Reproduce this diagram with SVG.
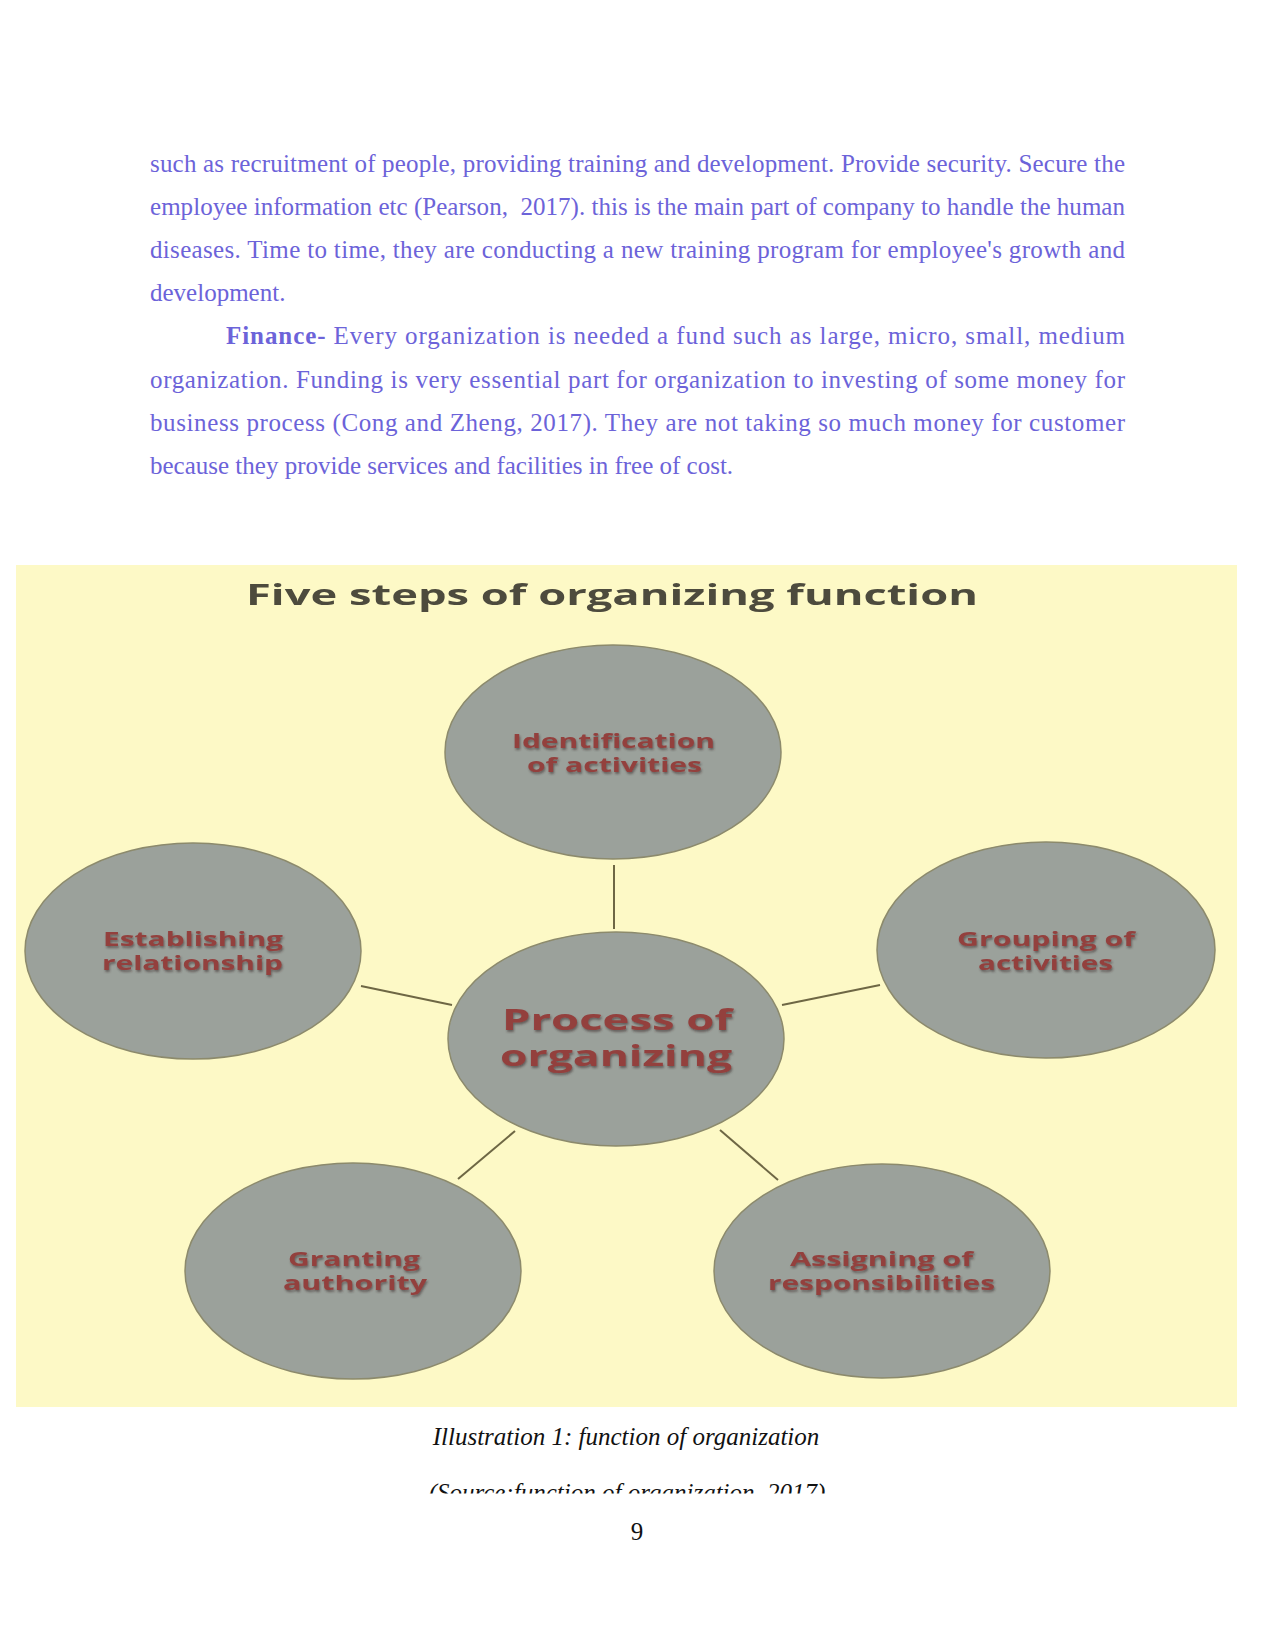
<svg xmlns="http://www.w3.org/2000/svg" width="1275" height="1650" viewBox="0 0 1275 1650">
<defs>
<style>
.body{font-family:"Liberation Serif","Times New Roman",serif;font-size:25px;fill:#6c63d9;white-space:pre}
.cap{font-family:"Liberation Serif","Times New Roman",serif;font-size:25px;font-style:italic;fill:#111}
.pg{font-family:"Liberation Serif","Times New Roman",serif;font-size:25px;fill:#111}
.node ellipse{fill:#9ba19b;stroke:#8c8a6c;stroke-width:1.5}
.lbl{font-family:"Open Sans","Noto Sans","DejaVu Sans",sans-serif;font-weight:bold;font-size:19px;fill:#93403e}
.big{font-size:29px}
.title{font-family:"Open Sans","Noto Sans","DejaVu Sans",sans-serif;font-weight:bold;font-size:28px;fill:#4e4c3e}
.conn line{stroke:#6e6744;stroke-width:2}
</style>
<filter id="soft" x="-5%" y="-20%" width="110%" height="140%">
<feGaussianBlur stdDeviation="0.7"/>
</filter>
<filter id="shadow" x="-5%" y="-20%" width="115%" height="150%">
<feGaussianBlur in="SourceAlpha" stdDeviation="1.2" result="b"/>
<feOffset in="b" dx="1" dy="1.5" result="o"/>
<feFlood flood-color="#3a2a2a" flood-opacity="0.55"/>
<feComposite in2="o" operator="in" result="s"/>
<feGaussianBlur in="SourceGraphic" stdDeviation="0.6" result="t"/>
<feMerge><feMergeNode in="s"/><feMergeNode in="t"/></feMerge>
</filter>
<clipPath id="srcclip"><rect x="0" y="1470" width="1275" height="23.5"/></clipPath>
</defs>
<rect width="1275" height="1650" fill="#ffffff"/>

<g id="body-text">
<text class="body" x="150" y="172" textLength="975" lengthAdjust="spacing">such as recruitment of people, providing training and development. Provide security. Secure the</text>
<text class="body" x="150" y="215" textLength="975" lengthAdjust="spacing">employee information etc (Pearson,  2017). this is the main part of company to handle the human</text>
<text class="body" x="150" y="258" textLength="975" lengthAdjust="spacing">diseases. Time to time, they are conducting a new training program for employee's growth and</text>
<text class="body" x="150" y="301">development.</text>
<text class="body" x="226" y="344" textLength="899" lengthAdjust="spacing"><tspan font-weight="bold">Finance-</tspan> Every organization is needed a fund such as large, micro, small, medium</text>
<text class="body" x="150" y="388" textLength="975" lengthAdjust="spacing">organization. Funding is very essential part for organization to investing of some money for</text>
<text class="body" x="150" y="431" textLength="975" lengthAdjust="spacing">business process (Cong and Zheng, 2017). They are not taking so much money for customer</text>
<text class="body" x="150" y="474">because they provide services and facilities in free of cost.</text>
</g>

<rect id="panel" x="16" y="565" width="1221" height="842" fill="#fdf9c6"/>
<text class="title" x="246" y="605" textLength="732" lengthAdjust="spacingAndGlyphs" filter="url(#soft)">Five steps of organizing function</text>

<g id="connectors" class="conn">
<line x1="614" y1="865" x2="614" y2="929"/>
<line x1="361" y1="986" x2="452" y2="1005"/>
<line x1="782" y1="1005" x2="880" y2="985"/>
<line x1="515" y1="1131" x2="458" y2="1179"/>
<line x1="720" y1="1130" x2="778" y2="1180"/>
</g>

<g id="node-identification" class="node">
<ellipse cx="613" cy="752" rx="168" ry="107"/>
<g filter="url(#shadow)">
<text class="lbl" x="512" y="748" textLength="203" lengthAdjust="spacingAndGlyphs">Identification</text>
<text class="lbl" x="527" y="772" textLength="175" lengthAdjust="spacingAndGlyphs">of activities</text>
</g>
</g>

<g id="node-establishing" class="node">
<ellipse cx="193" cy="951" rx="168" ry="108"/>
<g filter="url(#shadow)">
<text class="lbl" x="103" y="946" textLength="180" lengthAdjust="spacingAndGlyphs">Establishing</text>
<text class="lbl" x="102" y="970" textLength="181" lengthAdjust="spacingAndGlyphs">relationship</text>
</g>
</g>

<g id="node-grouping" class="node">
<ellipse cx="1046" cy="950" rx="169" ry="108"/>
<g filter="url(#shadow)">
<text class="lbl" x="957" y="946" textLength="178" lengthAdjust="spacingAndGlyphs">Grouping of</text>
<text class="lbl" x="978" y="970" textLength="135" lengthAdjust="spacingAndGlyphs">activities</text>
</g>
</g>

<g id="node-process" class="node">
<ellipse cx="616" cy="1039" rx="168" ry="107"/>
<g filter="url(#shadow)">
<text class="lbl big" x="502" y="1030" textLength="230" lengthAdjust="spacingAndGlyphs">Process of</text>
<text class="lbl big" x="500" y="1066" textLength="232" lengthAdjust="spacingAndGlyphs">organizing</text>
</g>
</g>

<g id="node-granting" class="node">
<ellipse cx="353" cy="1271" rx="168" ry="108"/>
<g filter="url(#shadow)">
<text class="lbl" x="288" y="1266" textLength="132" lengthAdjust="spacingAndGlyphs">Granting</text>
<text class="lbl" x="283" y="1290" textLength="144" lengthAdjust="spacingAndGlyphs">authority</text>
</g>
</g>

<g id="node-assigning" class="node">
<ellipse cx="882" cy="1271" rx="168" ry="107"/>
<g filter="url(#shadow)">
<text class="lbl" x="790" y="1266" textLength="183" lengthAdjust="spacingAndGlyphs">Assigning of</text>
<text class="lbl" x="768" y="1290" textLength="227" lengthAdjust="spacingAndGlyphs">responsibilities</text>
</g>
</g>

<g id="caption">
<text class="cap" x="626" y="1445" text-anchor="middle">Illustration 1: function of organization</text>
<text class="cap" x="627" y="1501" text-anchor="middle" clip-path="url(#srcclip)">(Source:function of organization, 2017)</text>
<text class="pg" x="637" y="1540" text-anchor="middle">9</text>
</g>
</svg>
